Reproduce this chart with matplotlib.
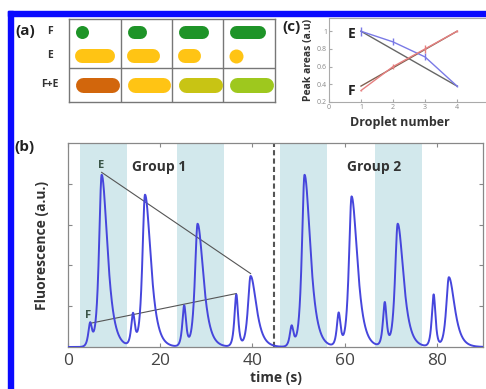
import numpy as np
import matplotlib.pyplot as plt
from matplotlib.patches import Rectangle

plt.rcParams['font.family'] = ['Open Sans', 'DejaVu Sans']

# ---- data ----
# panel (b): fluorescence peaks (time s, height a.u.)
f_times = [4.8, 14.1, 25.2, 36.5, 48.5, 58.7, 68.7, 79.3]
f_heights = [0.55, 0.78, 1.0, 1.28, 0.5, 0.81, 1.07, 1.28]
e_times = [7.3, 16.7, 28.1, 39.6, 51.3, 61.5, 71.5, 82.6]
e_heights = [4.22, 3.73, 3.02, 1.74, 4.22, 3.69, 3.02, 1.71]
shade_start = [2.6, 23.7, 46.0, 66.5]
shade_end = [12.8, 33.9, 56.1, 76.7]
group_split = 44.6

# panel (a): droplet lengths in pixels
fe_rows = ['F', 'E', 'F+E']
pill_len = {
    'F': [13, 19, 30, 36],
    'E': [40, 33, 23, 14],
    'F+E': [44, 43, 44, 44],
}
pill_col = {
    'F': ['#1e9428'] * 4,
    'E': ['#ffc414'] * 4,
    'F+E': ['#d2660c', '#ffc414', '#c8c414', '#9ec81e'],
}

# panel (c): peak areas
droplet = [1, 2, 3, 4]
e_area = [1.00, 0.88, 0.71, 0.38]
e_err = [0.05, 0.04, 0.04, 0.01]
f_area = [0.33, 0.60, 0.80, 1.00]
f_err = [0.01, 0.03, 0.05, 0.01]
e_fit = [1.00, 0.38]
f_fit = [0.38, 1.00]

W, H = 486, 389
fig = plt.figure(figsize=(W / 100, H / 100), dpi=100)

# blue frame (left and top bars)
fig.patches.append(Rectangle((8 / W, 0), 5 / W, 1 - 11 / H, transform=fig.transFigure,
                             color='#0a0aff', zorder=10))
fig.patches.append(Rectangle((8 / W, 1 - 16 / H), 1, 5 / H, transform=fig.transFigure,
                             color='#0a0aff', zorder=10))


def box(l, t, r, b):
    return [l / W, 1 - b / H, (r - l) / W, (b - t) / H]


# ---- panel (a) ----
axa = fig.add_axes(box(69, 19, 275, 102))
axa.set_xlim(0, 206)
axa.set_ylim(83, 0)
axa.set_xticks([])
axa.set_yticks([])
for s in axa.spines.values():
    s.set_color('#777777')
    s.set_linewidth(1.0)
for cx in [52, 103, 154]:
    axa.axvline(cx, color='#777777', lw=1.0)
axa.axhline(49, color='#777777', lw=1.0)
row_y = {'F': 13, 'E': 37, 'F+E': 66}
row_h = {'F': 13, 'E': 14, 'F+E': 15}
col_left = [0, 52, 103, 154]
for r in fe_rows:
    h = row_h[r]
    for i in range(4):
        L = pill_len[r][i]
        x0 = col_left[i] + 6 + h / 2
        x1 = col_left[i] + 6 + L - h / 2
        if x1 - x0 < 1:
            axa.scatter([(x0 + x1) / 2], [row_y[r]], s=(L * 0.72) ** 2,
                        color=pill_col[r][i], linewidths=0)
        else:
            axa.plot([x0, x1], [row_y[r], row_y[r]], color=pill_col[r][i],
                     lw=h * 0.72, solid_capstyle='round')
    axa.text(-19, row_y[r], r, ha='center', va='center',
             fontsize=7.5, fontweight='bold', color='#333333', clip_on=False)
fig.text(25 / W, 1 - 31 / H, '(a)', ha='center', va='center', fontsize=11,
         fontweight='bold', color='#222222')

# ---- panel (b) ----
axb = fig.add_axes(box(68, 143, 483, 347))
t = np.linspace(0, 90, 3000)
y = np.zeros_like(t)
for tp, hp in zip(f_times, f_heights):
    y += hp / np.cosh((t - tp) / 0.35)
for tp, hp in zip(e_times, e_heights):
    d = t - tp
    w = np.where(d < 0, 0.5, 1.1)
    y += hp / np.cosh(d / w)
for a, b in zip(shade_start, shade_end):
    axb.axvspan(a, b, color='#d2e8ec', lw=0, zorder=0)
axb.plot(t, y, color='#4646dc', lw=1.4, zorder=3)
axb.plot([e_times[0], e_times[3]], [e_heights[0] + 0.06, e_heights[3] + 0.06],
         color='#555555', lw=0.8, zorder=2)
axb.plot([f_times[0], f_times[3]], [f_heights[0] + 0.03, f_heights[3] + 0.03],
         color='#555555', lw=0.8, zorder=2)
axb.axvline(group_split, color='#555555', lw=1.5, ls=(0, (2.5, 1.5)), zorder=2)
axb.text(7.2, 4.44, 'E', ha='center', va='center', fontsize=8, fontweight='bold', color='#3a5548')
axb.text(4.3, 0.78, 'F', ha='center', va='center', fontsize=8, fontweight='bold', color='#3a5548')
axb.text(19.8, 4.4, 'Group 1', ha='center', va='center', fontsize=10, fontweight='bold', color='#333333')
axb.text(66.3, 4.4, 'Group 2', ha='center', va='center', fontsize=10, fontweight='bold', color='#333333')
axb.set_xlim(0, 90)
axb.set_ylim(0, 5)
axb.set_xticks([0, 20, 40, 60, 80])
axb.set_yticks([1, 2, 3, 4])
axb.set_yticklabels([])
axb.tick_params(direction='in', length=3, color='#888888', top=True, right=True,
                labelsize=12.5, labelcolor='#444444', pad=4)
for s in axb.spines.values():
    s.set_color('#888888')
    s.set_linewidth(0.9)
axb.set_xlabel('time (s)', fontsize=10, fontweight='bold', color='#333333', labelpad=2)
axb.set_ylabel('Fluorescence (a.u.)', fontsize=10, fontweight='bold', color='#333333', labelpad=10)
fig.text(24 / W, 1 - 147 / H, '(b)', ha='center', va='center', fontsize=11,
         fontweight='bold', color='#222222')

# ---- panel (c) ----
axc = fig.add_axes(box(329, 18, 489, 102))
axc.plot([1, 4], e_fit, color='#666666', lw=1.0)
axc.plot([1, 4], f_fit, color='#806050', lw=1.0)
axc.errorbar(droplet, e_area, yerr=e_err, color='#7a7ae6', lw=1.0, capsize=0)
axc.errorbar(droplet, f_area, yerr=f_err, color='#e68080', lw=1.0, capsize=0)
axc.text(0.72, 0.97, 'E', ha='center', va='center', fontsize=10, fontweight='bold', color='#222222')
axc.text(0.72, 0.33, 'F', ha='center', va='center', fontsize=10, fontweight='bold', color='#222222')
axc.set_xlim(0, 5)
axc.set_ylim(0.2, 1.15)
axc.set_xticks([0, 1, 2, 3, 4])
axc.set_yticks([0.2, 0.4, 0.6, 0.8, 1.0])
axc.set_yticklabels(['0.2', '0.4', '0.6', '0.8', '1'])
axc.tick_params(direction='in', length=2, color='#aaaaaa', labelsize=5,
                labelcolor='#888888', pad=1.5)
for s in axc.spines.values():
    s.set_color('#aaaaaa')
    s.set_linewidth(0.8)
axc.set_xlabel('Droplet number', fontsize=9, fontweight='bold', color='#333333', labelpad=1)
axc.xaxis.set_label_coords(0.44, -0.17)
axc.set_ylabel('Peak areas (a.u)', fontsize=7.5, fontweight='bold', color='#333333', labelpad=2)
fig.text(291 / W, 1 - 27 / H, '(c)', ha='center', va='center', fontsize=11,
         fontweight='bold', color='#222222')

fig.savefig('out.png', dpi=100)
